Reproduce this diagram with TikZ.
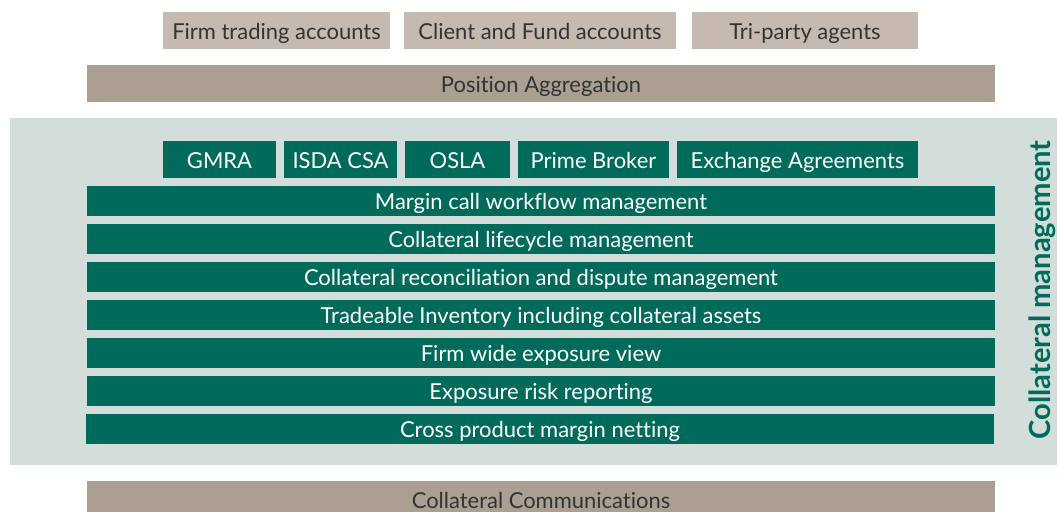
\documentclass[tikz,border=0pt]{standalone}
\usepackage{fontspec}
\setmainfont{Lato}[Ligatures=NoCommon]
\definecolor{acct}{HTML}{C5B9B0}
\definecolor{aggr}{HTML}{AB9F92}
\definecolor{panel}{HTML}{D3DDDA}
\definecolor{cmgreen}{HTML}{006B5B}
\definecolor{darktext}{HTML}{333333}

\begin{document}
\begin{tikzpicture}[x=0.02cm,y=-0.02cm,
  box_font/.style={font=\fontsize{12.5}{14}\selectfont,text height=1em,text depth=0pt},
  acct_box/.style={box_font,fill=acct,text=darktext,minimum height=0.74cm,inner sep=0pt},
  aggr_box/.style={box_font,fill=aggr,text=darktext,minimum width=18.16cm,minimum height=0.74cm,inner sep=0pt},
  agr_box/.style={box_font,fill=cmgreen,text=white,minimum height=0.74cm,inner sep=0pt},
  bar_box/.style={box_font,fill=cmgreen,text=white,minimum width=18.16cm,minimum height=0.6cm,inner sep=0pt}]

    \useasboundingbox (0,0) rectangle (1057,511);
    \fill[panel] (10,118) rectangle (1057,465);

    \node[acct_box,minimum width=4.54cm] (firm) at (276.5,30.5) {Firm trading accounts};
    \node[acct_box,minimum width=5.44cm] (client) at (540,30.5) {Client and Fund accounts};
    \node[acct_box,minimum width=4.52cm] (triparty) at (805,30.5) {Tri-party agents};
    \node[aggr_box] (aggr) at (541,83.5) {Position Aggregation};

    \node[agr_box,minimum width=2.26cm] (gmra) at (219.5,159.5) {GMRA};
    \node[agr_box,minimum width=2.26cm] (isda) at (340.5,159.5) {ISDA CSA};
    \node[agr_box,minimum width=2.10cm] (osla) at (457.5,159.5) {OSLA};
    \node[agr_box,minimum width=3.02cm] (prime) at (593.5,159.5) {Prime Broker};
    \node[agr_box,minimum width=4.82cm] (exch) at (797.5,159.5) {Exchange Agreements};

    \node[bar_box] (margin) at (541,201) {Margin call workflow management};
    \node[bar_box] (lifecycle) at (541,239) {Collateral lifecycle management};
    \node[bar_box] (recon) at (541,277) {Collateral reconciliation and dispute management};
    \node[bar_box] (inventory) at (541,315) {Tradeable Inventory including collateral assets};
    \node[bar_box] (exposure) at (541,353) {Firm wide exposure view};
    \node[bar_box] (risk) at (541,391) {Exposure risk reporting};
    \node[bar_box] (netting) at (540,429) {Cross product margin netting};

    \node[rotate=90,text=cmgreen,font=\fontsize{16.6}{18}\selectfont\bfseries] (cm) at (1042,290) {Collateral management};

    \node[aggr_box] (comms) at (541,499.5) {Collateral Communications};
\end{tikzpicture}
\end{document}
